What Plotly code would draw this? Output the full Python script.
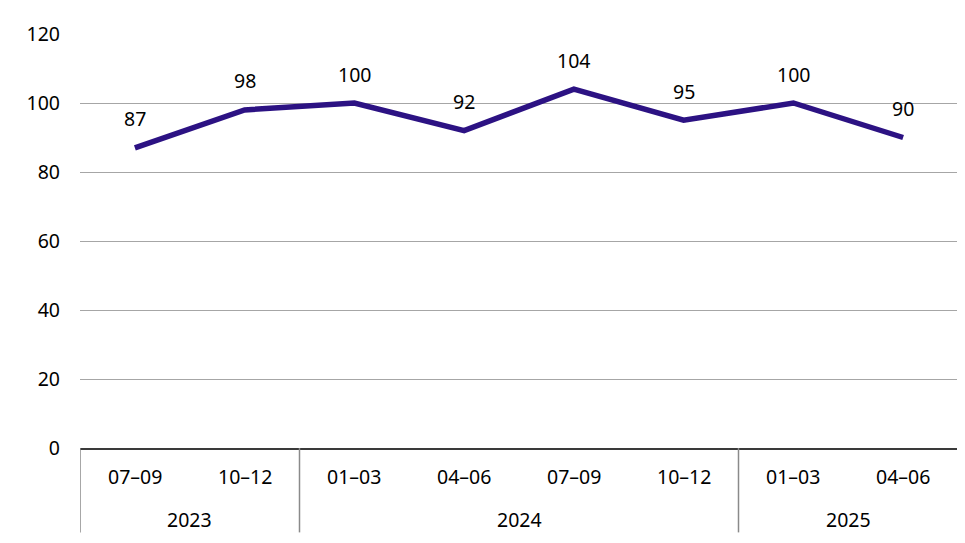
import plotly.graph_objects as go

quarters = ["07–09", "10–12", "01–03", "04–06", "07–09", "10–12", "01–03", "04–06"]
years = ["2023", "2023", "2024", "2024", "2024", "2024", "2025", "2025"]
values = [87, 98, 100, 92, 104, 95, 100, 90]
y_ticks = [0, 20, 40, 60, 80, 100, 120]

LINE_COLOR = "#2C1283"
FONT = "Noto Sans"
TXT = "#000000"
FS = 19.5
x = list(range(len(values)))

fig = go.Figure()
fig.add_trace(go.Scatter(
    x=x, y=values, mode="lines",
    line=dict(color=LINE_COLOR, width=5.5),
    hoverinfo="skip", showlegend=False,
))

annotations = []
for xi, v in zip(x, values):
    annotations.append(dict(x=xi, y=v, xref="x", yref="y", text=str(v),
                            showarrow=False, yanchor="middle", yshift=29,
                            font=dict(size=FS, color=TXT, family=FONT)))
for xi, q in zip(x, quarters):
    annotations.append(dict(x=xi, y=0, xref="x", yref="paper", text=q,
                            showarrow=False, yanchor="middle", yshift=-28,
                            font=dict(size=FS, color=TXT, family=FONT)))

# year groups
groups = []
for i, yr in enumerate(years):
    if not groups or groups[-1][0] != yr:
        groups.append([yr, i, i])
    else:
        groups[-1][2] = i

shapes = []
div_len = 85 / 417
for yr, s, e in groups:
    annotations.append(dict(x=(s + e) / 2, y=0, xref="x", yref="paper", text=yr,
                            showarrow=False, yanchor="middle", yshift=-71,
                            font=dict(size=FS, color=TXT, family=FONT)))
bounds = [groups[0][1] - 0.5] + [g[2] + 0.5 for g in groups]
for b in bounds:
    shapes.append(dict(type="line", xref="x", yref="paper", x0=b, x1=b,
                       y0=0, y1=-div_len, line=dict(color="#8a8a8a", width=1.5)))

fig.update_layout(
    width=965, height=543,
    margin=dict(l=72, r=15, t=23, b=103),
    plot_bgcolor="white", paper_bgcolor="white",
    font=dict(family=FONT, size=FS, color=TXT),
    annotations=annotations, shapes=shapes,
    xaxis=dict(range=[-0.5, len(values) - 0.5], showticklabels=False,
               showgrid=False, zeroline=False, showline=True,
               linecolor="#3a3a3a", linewidth=1.5, ticks=""),
    yaxis=dict(range=[0, 120], tickvals=y_ticks, showgrid=True,
               gridcolor="#a6a6a6", gridwidth=1, zeroline=False,
               showline=False, ticks="", ticklabelstandoff=19,
               tickfont=dict(size=FS, family=FONT, color=TXT)),
)

fig.write_html("out.html")
